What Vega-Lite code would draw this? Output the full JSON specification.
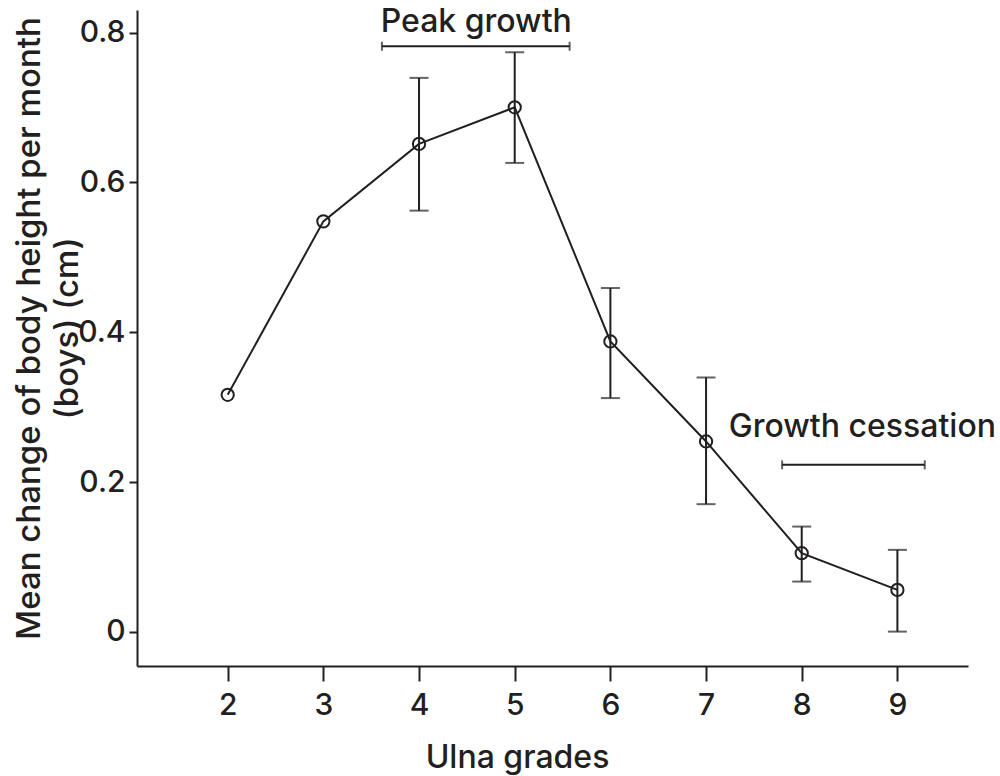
{
  "$schema": "https://vega.github.io/schema/vega-lite/v6.json",
  "width": 831,
  "height": 656,
  "autosize": {"type": "none"},
  "padding": {"left": 137, "top": 10, "right": 32, "bottom": 110},
  "background": "white",
  "config": {
    "view": {"stroke": null},
    "font": "Inter",
    "axis": {
      "domainColor": "#231f20",
      "domainWidth": 2,
      "tickColor": "#231f20",
      "tickWidth": 2,
      "labelColor": "#231f20",
      "titleColor": "#231f20",
      "labelFont": "Inter",
      "titleFont": "Inter",
      "labelFontWeight": 500,
      "titleFontWeight": 500,
      "grid": false
    }
  },
  "datasets": {
    "points": [
      {"grade": 2, "mean": 0.3165, "lo": null, "hi": null},
      {"grade": 3, "mean": 0.548, "lo": null, "hi": null},
      {"grade": 4, "mean": 0.6514, "lo": 0.5623, "hi": 0.7395},
      {"grade": 5, "mean": 0.7002, "lo": 0.626, "hi": 0.7737},
      {"grade": 6, "mean": 0.3877, "lo": 0.3121, "hi": 0.459},
      {"grade": 7, "mean": 0.2542, "lo": 0.1705, "hi": 0.3396},
      {"grade": 8, "mean": 0.1051, "lo": 0.0672, "hi": 0.1406},
      {"grade": 9, "mean": 0.0561, "lo": 0.0004, "hi": 0.1095}
    ],
    "brackets": [
      {"label": "Peak growth", "x1": 3.612, "x2": 5.574, "y": 0.7817, "tx": 4.598, "ty": 0.8014},
      {"label": "Growth cessation", "x1": 7.795, "x2": 9.286, "y": 0.223, "tx": 8.634, "ty": 0.2604}
    ]
  },
  "encoding": {
    "x": {
      "type": "quantitative",
      "scale": {"domain": [1.052, 9.738], "nice": false, "zero": false},
      "axis": {
        "values": [2, 3, 4, 5, 6, 7, 8, 9],
        "format": "d",
        "tickSize": 15,
        "labelPadding": 9,
        "labelFontSize": 30,
        "title": "Ulna grades",
        "titleFontSize": 32,
        "titleX": 380,
        "titleY": 101,
        "titleBaseline": "alphabetic",
        "titleAnchor": null
      }
    },
    "y": {
      "type": "quantitative",
      "scale": {"domain": [-0.0455, 0.8301], "nice": false, "zero": false},
      "axis": {
        "values": [0, 0.2, 0.4, 0.6, 0.8],
        "labelExpr": "datum.value == 0 ? '0' : format(datum.value, '.1f')",
        "tickSize": 8,
        "labelPadding": 4,
        "labelFontSize": 30,
        "title": ["Mean change of body height per month", "(boys) (cm)"],
        "titleFontSize": 33,
        "titleLineHeight": 38,
        "titleAngle": -90,
        "titleX": -108,
        "titleY": 318,
        "titleAlign": "center",
        "titleBaseline": "middle"
      }
    }
  },
  "layer": [
    {
      "data": {"name": "points"},
      "transform": [{"filter": {"field": "lo", "valid": true}}],
      "mark": {"type": "rule", "color": "#231f20", "strokeWidth": 2},
      "encoding": {
        "x": {"field": "grade"},
        "y": {"field": "lo"},
        "y2": {"field": "hi"}
      }
    },
    {
      "data": {"name": "points"},
      "transform": [{"filter": {"field": "lo", "valid": true}}],
      "mark": {"type": "tick", "orient": "horizontal", "color": "#231f20", "size": 19, "thickness": 2},
      "encoding": {
        "x": {"field": "grade"},
        "y": {"field": "lo"}
      }
    },
    {
      "data": {"name": "points"},
      "transform": [{"filter": {"field": "lo", "valid": true}}],
      "mark": {"type": "tick", "orient": "horizontal", "color": "#231f20", "size": 19, "thickness": 2},
      "encoding": {
        "x": {"field": "grade"},
        "y": {"field": "hi"}
      }
    },
    {
      "data": {"name": "points"},
      "mark": {"type": "line", "color": "#231f20", "strokeWidth": 2},
      "encoding": {
        "x": {"field": "grade"},
        "y": {"field": "mean"}
      }
    },
    {
      "data": {"name": "points"},
      "mark": {"type": "point", "shape": "circle", "filled": false, "stroke": "#231f20", "strokeWidth": 2, "size": 150, "opacity": 1},
      "encoding": {
        "x": {"field": "grade"},
        "y": {"field": "mean"}
      }
    },
    {
      "data": {"name": "brackets"},
      "mark": {"type": "rule", "color": "#231f20", "strokeWidth": 2},
      "encoding": {
        "x": {"field": "x1"},
        "x2": {"field": "x2"},
        "y": {"field": "y"}
      }
    },
    {
      "data": {"name": "brackets"},
      "mark": {"type": "tick", "orient": "vertical", "color": "#231f20", "size": 9, "thickness": 2},
      "encoding": {
        "x": {"field": "x1"},
        "y": {"field": "y"}
      }
    },
    {
      "data": {"name": "brackets"},
      "mark": {"type": "tick", "orient": "vertical", "color": "#231f20", "size": 9, "thickness": 2},
      "encoding": {
        "x": {"field": "x2"},
        "y": {"field": "y"}
      }
    },
    {
      "data": {"name": "brackets"},
      "mark": {"type": "text", "color": "#231f20", "fontSize": 32, "fontWeight": 500, "align": "center", "baseline": "alphabetic", "font": "Inter"},
      "encoding": {
        "x": {"field": "tx"},
        "y": {"field": "ty"},
        "text": {"field": "label"}
      }
    }
  ]
}
